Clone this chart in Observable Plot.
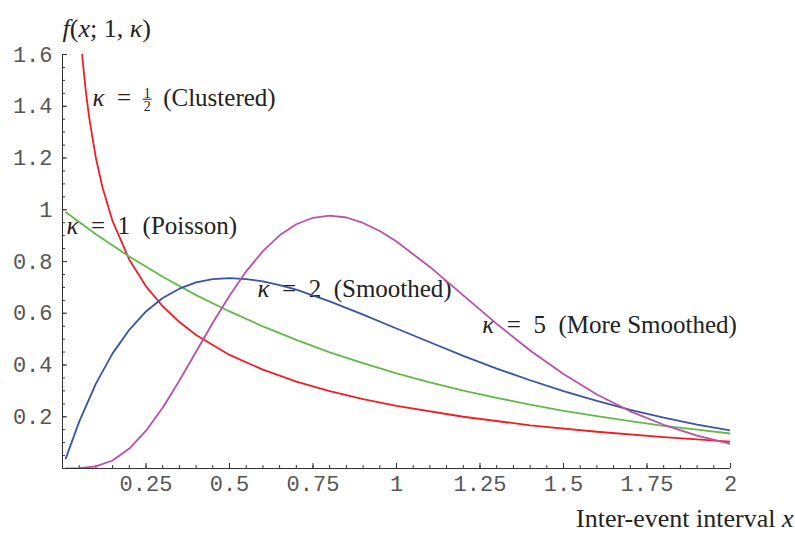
<!DOCTYPE html>
<html>
<head>
<meta charset="utf-8">
<script src="https://cdn.jsdelivr.net/npm/d3@7"></script>
<script src="https://cdn.jsdelivr.net/npm/@observablehq/plot@0.6"></script>
<style>
  body { margin: 0; background: #fff; }
  svg { display: block; }
</style>
</head>
<body>
<div id="chart"></div>
<script>
// Gamma densities with unit mean, f(x; 1, κ), sampled along the interval axis.
const xHalf = [0.05, 0.06, 0.07, 0.08, 0.1, 0.12, 0.15, 0.2, 0.25, 0.3, 0.35, 0.4, 0.5, 0.6, 0.7, 0.8, 0.9, 1.0, 1.2, 1.4, 1.6, 1.8, 2.0];
const fHalf = [1.740, 1.581, 1.456, 1.355, 1.200, 1.085, 0.956, 0.807, 0.704, 0.627, 0.566, 0.516, 0.439, 0.382, 0.336, 0.299, 0.268, 0.242, 0.200, 0.167, 0.142, 0.121, 0.104];

const xOne = [0.01, 0.1, 0.2, 0.3, 0.4, 0.5, 0.6, 0.7, 0.8, 0.9, 1.0, 1.1, 1.2, 1.3, 1.4, 1.5, 1.6, 1.7, 1.8, 1.9, 2.0];
const fOne = [0.990, 0.905, 0.819, 0.741, 0.670, 0.607, 0.549, 0.497, 0.449, 0.407, 0.368, 0.333, 0.301, 0.273, 0.247, 0.223, 0.202, 0.183, 0.165, 0.150, 0.135];

const xTwo = [0.01, 0.05, 0.1, 0.15, 0.2, 0.25, 0.3, 0.35, 0.4, 0.45, 0.5, 0.55, 0.6, 0.65, 0.7, 0.8, 0.9, 1.0, 1.1, 1.2, 1.3, 1.4, 1.5, 1.6, 1.7, 1.8, 1.9, 2.0];
const fTwo = [0.039, 0.181, 0.328, 0.445, 0.536, 0.607, 0.659, 0.695, 0.719, 0.732, 0.736, 0.732, 0.723, 0.709, 0.691, 0.646, 0.595, 0.541, 0.488, 0.435, 0.386, 0.341, 0.299, 0.261, 0.227, 0.197, 0.170, 0.147];

const xFive = [0.01, 0.05, 0.1, 0.15, 0.2, 0.25, 0.3, 0.35, 0.4, 0.45, 0.5, 0.55, 0.6, 0.65, 0.7, 0.75, 0.8, 0.85, 0.9, 0.95, 1.0, 1.1, 1.2, 1.3, 1.4, 1.5, 1.6, 1.7, 1.8, 1.9, 2.0];
const fFive = [0.000, 0.001, 0.008, 0.031, 0.077, 0.146, 0.235, 0.340, 0.451, 0.563, 0.668, 0.762, 0.840, 0.901, 0.944, 0.969, 0.977, 0.970, 0.949, 0.918, 0.877, 0.779, 0.669, 0.559, 0.456, 0.365, 0.286, 0.221, 0.169, 0.127, 0.095];

// Axis ticks
const xTickLabels = [0.25, 0.5, 0.75, 1, 1.25, 1.5, 1.75, 2];
const yTickLabels = [0.2, 0.4, 0.6, 0.8, 1, 1.2, 1.4, 1.6];
const xMinorTicks = d3.range(1, 41).map(i => i / 20);
const yMinorTicks = d3.range(1, 33).map(i => i / 20);

// Curve annotations ("_..._" = italic, "{a/b}" = stacked fraction)
const curveLabels = [
  {text: "_κ_\u2002=\u2002{1/2}\u2002(Clustered)", x: 0.09, y: 1.433},
  {text: "_κ_\u2002=\u20021\u2002(Poisson)", x: 0.012, y: 0.938},
  {text: "_κ_\u2002=\u20022\u2002(Smoothed)", x: 0.584, y: 0.695},
  {text: "_κ_\u2002=\u20025\u2002(More Smoothed)", x: 1.257, y: 0.556}
];
const yTitle = "_f_(_x_;\u20051,\u2005_κ_)";
const xTitle = "Inter-event interval _x_";

const series = [
  {name: "half", x: xHalf, f: fHalf},
  {name: "one", x: xOne, f: fOne},
  {name: "two", x: xTwo, f: fTwo},
  {name: "five", x: xFive, f: fFive}
];
const seriesColor = {half: "#ee1f26", one: "#63b947", two: "#3b53a4", five: "#bc4fa7"};

const W = 795, H = 540;
const M = {top: 54, right: 65, bottom: 72, left: 62};
const FW = W - M.left - M.right, FH = H - M.top - M.bottom;
const axisColor = "#333";
const monoFont = "'Liberation Mono', 'DejaVu Sans Mono', monospace";
const serifFont = "'Liberation Serif', 'DejaVu Serif', serif";
const plainNumber = d => `${d}`;

const lineMarks = series.map(s =>
  Plot.line(s.x.map((x, i) => ({x, f: s.f[i]})), {
    x: "x", y: "f", stroke: seriesColor[s.name], strokeWidth: 1.8, clip: true
  })
);

const svg = Plot.plot({
  width: W, height: H,
  marginTop: M.top, marginRight: M.right, marginBottom: M.bottom, marginLeft: M.left,
  x: {domain: [0, 2]},
  y: {domain: [0, 1.6]},
  style: {background: "#fff", overflow: "visible"},
  marks: [
    Plot.tickX(xMinorTicks, {insetTop: FH - 3, stroke: axisColor}),
    Plot.tickX(xTickLabels, {insetTop: FH - 5, stroke: axisColor}),
    Plot.tickY(yMinorTicks, {insetRight: FW - 3, stroke: axisColor}),
    Plot.tickY(yTickLabels, {insetRight: FW - 5, stroke: axisColor}),
    Plot.ruleY([0], {stroke: axisColor}),
    Plot.ruleX([0], {stroke: axisColor}),
    Plot.axisX({ticks: xTickLabels, tickFormat: plainNumber, tickSize: 0, tickPadding: 7, label: null,
      fontSize: 22, fontFamily: monoFont, fill: "#555"}),
    Plot.axisY({ticks: yTickLabels, tickFormat: plainNumber, tickSize: 0, tickPadding: 10, label: null,
      fontSize: 22, fontFamily: monoFont, fill: "#555"}),
    Plot.text(curveLabels, {x: "x", y: "y", text: "text", textAnchor: "start",
      fontSize: 25, fontFamily: serifFont, fill: "#222"}),
    ...lineMarks,
    Plot.text([yTitle], {frameAnchor: "top-left", dy: -36, textAnchor: "start",
      fontSize: 26, fontFamily: serifFont, fill: "#222"}),
    Plot.text([xTitle], {frameAnchor: "bottom-right", dx: 63, dy: 58, textAnchor: "end",
      fontSize: 26, fontFamily: serifFont, fill: "#222"})
  ]
});

document.getElementById("chart").appendChild(svg);

// Turn the lightweight markup into italic tspans and stacked fractions.
function setRich(el) {
  const src = el.textContent;
  if (!/[_{]/.test(src)) return;
  el.textContent = "";
  const t = d3.select(el);
  const tokens = src.split(/(_[^_]*_|\{\d+\/\d+\})/).filter(s => s);
  let count = 0, pendingDy = 0, frac = null;
  for (const tok of tokens) {
    let span;
    if (tok.startsWith("_")) {
      const s = tok.slice(1, -1);
      span = t.append("tspan").attr("font-style", "italic").text(s);
      count += s.length;
    } else if (tok.startsWith("{")) {
      const [num, den] = tok.slice(1, -1).split("/");
      span = t.append("tspan").attr("font-size", 14).attr("dy", -8).text(num);
      frac = count;
      count += num.length;
      t.append("tspan").attr("font-size", 14).attr("dx", -7).attr("dy", 13.5).text(den);
      count += den.length;
      pendingDy = -5.5;
      continue;
    } else {
      span = t.append("tspan").text(tok);
      count += tok.length;
    }
    if (pendingDy) { span.attr("dy", pendingDy); pendingDy = 0; }
  }
  if (frac != null) {
    const p = el.getStartPositionOfChar(frac);
    const base = el.getStartPositionOfChar(0).y;
    const bar = document.createElementNS("http://www.w3.org/2000/svg", "line");
    bar.setAttribute("x1", p.x - 1);
    bar.setAttribute("x2", p.x + 8);
    bar.setAttribute("y1", base - 6.5);
    bar.setAttribute("y2", base - 6.5);
    bar.setAttribute("stroke", "#222");
    bar.setAttribute("stroke-width", 1);
    const tr = el.getAttribute("transform");
    if (tr) bar.setAttribute("transform", tr);
    el.parentNode.appendChild(bar);
  }
}
d3.select(svg).selectAll("text").each(function () { setRich(this); });
</script>
</body>
</html>
